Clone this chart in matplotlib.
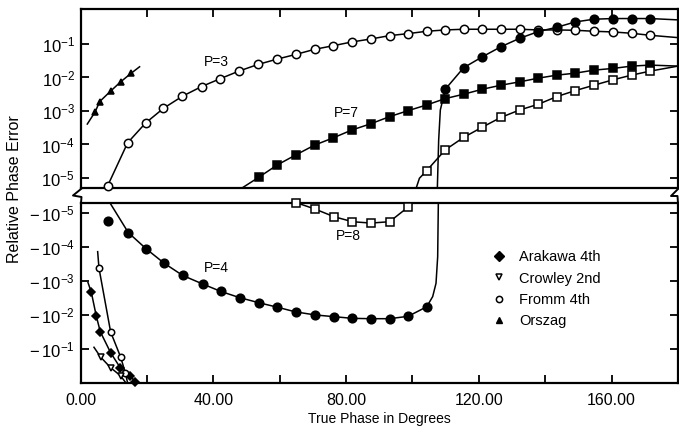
import numpy as np
import matplotlib
matplotlib.use("Agg")
import matplotlib.pyplot as plt
from matplotlib.lines import Line2D
from matplotlib.ticker import FixedLocator, NullLocator, FixedFormatter

plt.rcParams['font.family'] = ['Liberation Sans', 'DejaVu Sans']
plt.rcParams['mathtext.default'] = 'regular'

# ---------------- data (log10 of |relative phase error|) ----------------
# Upper panel (positive errors)
p3_x = [8.2, 14.2, 19.6, 25.0, 30.7, 36.5, 42.0, 47.7, 53.5, 59.3, 64.9, 70.5, 76.2, 81.7,
        87.5, 93.1, 98.7, 104.3, 109.9, 115.4, 121.1, 126.7, 132.3, 137.9, 143.5, 149.1,
        154.7, 160.4, 166.0, 171.6]
p3_log = [-5.23, -3.95, -3.36, -2.92, -2.56, -2.27, -2.04, -1.81, -1.61, -1.45, -1.31, -1.16,
          -1.05, -0.94, -0.85, -0.75, -0.69, -0.62, -0.58, -0.56, -0.56, -0.56, -0.56, -0.58,
          -0.58, -0.59, -0.62, -0.64, -0.68, -0.74]
p3_lead_x, p3_lead_log = [6.9], [-5.31]
p3_tail_x, p3_tail_log = [180.0], [-0.81]

p7_x = [53.7, 59.3, 64.9, 70.5, 76.2, 81.7, 87.5, 93.1, 98.7, 104.3, 109.9, 115.4, 121.1,
        126.7, 132.3, 137.9, 143.5, 149.1, 154.7, 160.4, 166.0, 171.6]
p7_log = [-4.98, -4.61, -4.31, -4.02, -3.80, -3.57, -3.38, -3.17, -2.99, -2.82, -2.63, -2.50,
          -2.35, -2.23, -2.13, -2.02, -1.93, -1.87, -1.78, -1.73, -1.66, -1.63]
p7_lead_x, p7_lead_log = [48.5], [-5.31]
p7_tail_x, p7_tail_log = [180.0], [-1.66]

p8_up_x = [104.3, 109.9, 115.4, 121.1, 126.7, 132.3, 137.9, 143.5, 149.1, 154.7, 160.4,
           166.0, 171.6]
p8_up_log = [-4.78, -4.16, -3.79, -3.48, -3.19, -2.97, -2.80, -2.57, -2.39, -2.23, -2.07,
             -1.93, -1.81]
p8_up_lead_x, p8_up_lead_log = [101.1, 102.1], [-5.31, -5.01]
p8_up_tail_x, p8_up_tail_log = [180.0], [-1.66]

p4_up_x = [109.9, 115.4, 121.1, 126.7, 132.3, 137.9, 143.5, 149.1, 154.7, 160.4, 166.0, 171.6]
p4_up_log = [-2.35, -1.71, -1.38, -1.08, -0.83, -0.63, -0.50, -0.34, -0.26, -0.24, -0.24, -0.24]
p4_up_lead_x, p4_up_lead_log = [107.5, 107.9, 108.4], [-5.31, -3.87, -2.97]
p4_up_tail_x, p4_up_tail_log = [180.0], [-0.28]

orszag_x = [4.45, 5.77, 9.26, 12.1, 15.3]
orszag_log = [-3.02, -2.72, -2.39, -2.13, -1.87]
orszag_lead_x, orszag_lead_log = [2.05], [-3.39]
orszag_tail_x, orszag_tail_log = [17.8], [-1.68]

# Lower panel (negative errors, log10 of magnitude)
p4_dn_x = [8.2, 14.4, 19.7, 25.2, 30.8, 36.8, 42.3, 47.9, 53.7, 59.2, 64.8, 70.7, 76.3, 81.9,
           87.5, 93.1, 98.7, 104.3]
p4_dn_log = [-4.76, -4.42, -3.95, -3.52, -3.16, -2.91, -2.69, -2.51, -2.36, -2.23, -2.09,
             -2.00, -1.95, -1.90, -1.89, -1.89, -1.96, -2.24]
p4_dn_lead_x, p4_dn_lead_log = [8.9], [-5.29]
p4_dn_tail_x, p4_dn_tail_log = [106.1, 107.1, 107.6, 107.8], [-2.54, -2.93, -3.71, -5.29]

p8_dn_x = [65.0, 70.7, 76.3, 81.9, 87.5, 93.1, 98.7]
p8_dn_log = [-5.30, -5.11, -4.89, -4.74, -4.70, -4.74, -5.17]
p8_dn_tail_x, p8_dn_tail_log = [100.1], [-5.29]

arakawa_x = [3.25, 4.75, 5.95, 9.08, 11.97, 14.98, 16.4]
arakawa_log = [-2.67, -1.97, -1.51, -0.89, -0.45, -0.21, -0.04]
arakawa_lead_x, arakawa_lead_log = [2.26], [-2.95]
arakawa_tail_x, arakawa_tail_log = [17.3], [0.0]

fromm_x = [5.56, 9.08, 12.1, 13.5]
fromm_log = [-3.38, -1.50, -0.76, -0.30]
fromm_lead_x, fromm_lead_log = [5.17], [-3.86]
fromm_tail_x, fromm_tail_log = [14.2], [0.0]

crowley_x = [6.08, 9.08, 12.1]
crowley_log = [-0.76, -0.45, -0.21]
crowley_lead_x, crowley_lead_log = [4.06], [-1.05]
crowley_tail_x, crowley_tail_log = [13.7], [0.0]

upper_ticks_log = [-1, -2, -3, -4, -5]
upper_labels = ['$10^{-1}$', '$10^{-2}$', '$10^{-3}$', '$10^{-4}$', '$10^{-5}$']
lower_ticks_log = [-5, -4, -3, -2, -1]
lower_labels = ['$-\\,10^{-5}$', '$-\\,10^{-4}$', '$-\\,10^{-3}$', '$-\\,10^{-2}$', '$-\\,10^{-1}$']
x_ticks = [0, 20, 40, 60, 80, 100, 120, 140, 160]
x_labels = ['0.00', '', '40.00', '', '80.00', '', '120.00', '', '160.00']

legend_names = ['Arakawa 4th', 'Crowley 2nd', 'Fromm 4th', 'Orszag']

# ---------------- figure ----------------
W, H = 679, 430
fig = plt.figure(figsize=(W / 100, H / 100), dpi=100)

def frac(l, t, r, b):
    return [l / W, 1 - b / H, (r - l) / W, (b - t) / H]

ax_up = fig.add_axes(frac(80.5, 9, 678, 188))
ax_dn = fig.add_axes(frac(80.5, 203, 678, 383))

def p(v):
    return 10 ** np.asarray(v, dtype=float)

def curve(ax, xs, ls, lead=None, tail=None, marker='o', ms=6, mfc='k', lw=1.1,
          line_from_markers=True):
    lx = list(xs)
    ll = list(ls)
    if not line_from_markers:
        lx, ll = lx[1:], ll[1:]
    if lead is not None:
        lx = list(lead[0]) + lx
        ll = list(lead[1]) + ll
    if tail is not None:
        lx = lx + list(tail[0])
        ll = ll + list(tail[1])
    ax.plot(lx, p(ll), '-', color='k', lw=lw, zorder=2)
    ax.plot(xs, p(ls), linestyle='none', marker=marker, ms=ms, mfc=mfc, mec='k',
            mew=1.1, zorder=3, clip_on=False)

# upper panel
curve(ax_up, p3_x, p3_log, (p3_lead_x, p3_lead_log), (p3_tail_x, p3_tail_log),
      marker='o', ms=6, mfc='white')
curve(ax_up, p7_x, p7_log, (p7_lead_x, p7_lead_log), (p7_tail_x, p7_tail_log),
      marker='s', ms=5.2, mfc='k')
curve(ax_up, p8_up_x, p8_up_log, (p8_up_lead_x, p8_up_lead_log), (p8_up_tail_x, p8_up_tail_log),
      marker='s', ms=5.2, mfc='white')
curve(ax_up, p4_up_x, p4_up_log, (p4_up_lead_x, p4_up_lead_log), (p4_up_tail_x, p4_up_tail_log),
      marker='o', ms=6.2, mfc='k')
curve(ax_up, orszag_x, orszag_log, (orszag_lead_x, orszag_lead_log),
      (orszag_tail_x, orszag_tail_log), marker='^', ms=5, mfc='k')

# lower panel
curve(ax_dn, p4_dn_x, p4_dn_log, (p4_dn_lead_x, p4_dn_lead_log), (p4_dn_tail_x, p4_dn_tail_log),
      marker='o', ms=6.2, mfc='k', line_from_markers=False)
curve(ax_dn, p8_dn_x, p8_dn_log, None, (p8_dn_tail_x, p8_dn_tail_log),
      marker='s', ms=5.2, mfc='white')
curve(ax_dn, arakawa_x, arakawa_log, (arakawa_lead_x, arakawa_lead_log),
      (arakawa_tail_x, arakawa_tail_log), marker='D', ms=4, mfc='k')
curve(ax_dn, fromm_x, fromm_log, (fromm_lead_x, fromm_lead_log),
      (fromm_tail_x, fromm_tail_log), marker='o', ms=4.6, mfc='white')
curve(ax_dn, crowley_x, crowley_log, (crowley_lead_x, crowley_lead_log),
      (crowley_tail_x, crowley_tail_log), marker='v', ms=4.6, mfc='white')

# axes styling
for ax in (ax_up, ax_dn):
    ax.set_yscale('log')
    ax.set_xlim(0, 180)
    ax.xaxis.set_major_locator(FixedLocator(x_ticks))
    ax.xaxis.set_minor_locator(NullLocator())
    ax.yaxis.set_minor_locator(NullLocator())
    for s in ax.spines.values():
        s.set_linewidth(1.6)
    ax.tick_params(direction='in', length=6, width=1.3, right=True)
    ax.tick_params(axis='y', labelsize=12, pad=4)
    ax.tick_params(axis='x', labelsize=11.5)
    ax.patch.set_alpha(0)

ax_up.set_ylim(10 ** -5.30, 10 ** 0.045)
ax_up.yaxis.set_major_locator(FixedLocator(p(upper_ticks_log)))
ax_up.yaxis.set_major_formatter(FixedFormatter(upper_labels))
ax_up.tick_params(axis='x', top=True, bottom=False, labelbottom=False)

ax_dn.set_ylim(1.0, 10 ** -5.29)
ax_dn.yaxis.set_major_locator(FixedLocator(p(lower_ticks_log)))
ax_dn.yaxis.set_major_formatter(FixedFormatter(lower_labels))
ax_dn.xaxis.set_major_formatter(FixedFormatter(x_labels))
ax_dn.tick_params(axis='x', top=False, bottom=True, pad=7)

# curve labels
ax_up.text(41, 10 ** -1.53, 'P=3', fontsize=10, ha='center', va='center')
ax_up.text(80.1, 10 ** -3.07, 'P=7', fontsize=10, ha='center', va='center')
ax_dn.text(80.6, 10 ** -4.33, 'P=8', fontsize=10, ha='center', va='center')
ax_dn.text(41, 10 ** -3.37, 'P=4', fontsize=10, ha='center', va='center')

# legend
handles = [
    Line2D([], [], ls='none', marker='D', ms=5, mfc='k', mec='k'),
    Line2D([], [], ls='none', marker='v', ms=4.5, mfc='white', mec='k', mew=1.1),
    Line2D([], [], ls='none', marker='o', ms=4.5, mfc='white', mec='k', mew=1.1),
    Line2D([], [], ls='none', marker='^', ms=4.5, mfc='k', mec='k'),
]
fig.legend(handles, legend_names, loc='upper left',
           bbox_to_anchor=(484 / W, 1 - 243 / H), frameon=False, fontsize=10.5,
           handlelength=1.0, handletextpad=0.9, labelspacing=0.5, borderpad=0)

# axis-break marks
kw = dict(color='k', lw=1.4, transform=fig.transFigure, clip_on=False)
def fx(v): return v / W
def fy(v): return 1 - v / H
fig.add_artist(Line2D([fx(81), fx(73), fx(81.5), fx(81)], [fy(189), fy(195.5), fy(197), fy(203)], **kw))
fig.add_artist(Line2D([fx(678), fx(671), fx(677.5), fx(678)], [fy(189), fy(196), fy(196), fy(203)], **kw))

# axis titles
fig.text(15 / W, 1 - 189 / H, 'Relative Phase Error', rotation=90, ha='center', va='center',
         fontsize=11.5)
fig.text(379 / W, 1 - 419 / H, 'True Phase in Degrees', ha='center', va='center', fontsize=10)

fig.savefig('out.png', dpi=100)
